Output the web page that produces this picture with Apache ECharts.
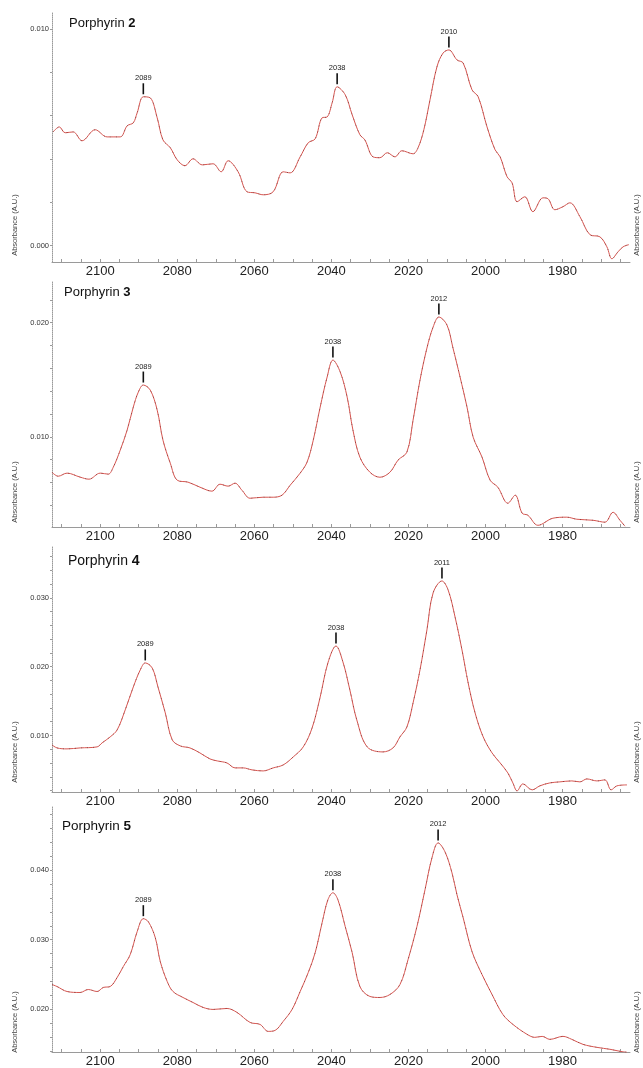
<!DOCTYPE html>
<html>
<head>
<meta charset="utf-8">
<script src="https://cdn.jsdelivr.net/npm/echarts@6/dist/echarts.min.js"></script>
<style>
  html, body { margin: 0; padding: 0; background: #fff; }
  #chart { width: 643px; height: 1068px; }
</style>
</head>
<body>
<div id="chart"></div>
<script>
// ---- data (wavenumber cm-1, absorbance A.U.) ----
const p2Wavenumber = [2112.2,2110.6,2109.1,2107.0,2104.7,2101.3,2098.2,2094.8,2093.0,2091.4,2090.4,2088.8,2087.0,2085.2,2083.7,2081.8,2080.0,2078.0,2075.9,2073.5,2070.7,2068.6,2066.8,2064.2,2061.9,2059.8,2057.7,2055.1,2052.5,2050.7,2048.1,2046.0,2044.2,2042.4,2041.1,2039.8,2038.5,2036.4,2034.6,2032.6,2031.3,2029.2,2027.4,2025.5,2023.5,2021.7,2018.8,2017.5,2016.0,2014.4,2012.6,2011.0,2009.5,2007.4,2005.8,2003.5,2001.9,1999.6,1997.5,1996.2,1994.4,1993.1,1991.8,1989.8,1987.7,1985.1,1983.8,1982.0,1979.9,1978.1,1975.5,1972.9,1970.3,1968.5,1967.2,1965.6,1964.3,1962.8];
const p2Absorbance = [0.00525,0.00548,0.00521,0.00525,0.00484,0.00535,0.00502,0.00502,0.00553,0.00567,0.00613,0.00687,0.00682,0.00590,0.00488,0.00452,0.00396,0.00369,0.00401,0.00373,0.00378,0.00341,0.00392,0.00341,0.00249,0.00244,0.00235,0.00249,0.00341,0.00336,0.00410,0.00475,0.00493,0.00590,0.00594,0.00659,0.00733,0.00696,0.00604,0.00512,0.00488,0.00410,0.00406,0.00429,0.00410,0.00438,0.00424,0.00452,0.00535,0.00673,0.00825,0.00889,0.00903,0.00857,0.00843,0.00719,0.00687,0.00548,0.00442,0.00410,0.00318,0.00290,0.00203,0.00226,0.00157,0.00221,0.00217,0.00166,0.00180,0.00198,0.00134,0.00051,0.00041,-0.00005,-0.00060,-0.00028,-0.00005,0.00005];
const p2Peaks = [2088.8, 2038.5, 2009.5];
const p2PeakLabels = ['2089', '2038', '2010'];

const p3Wavenumber = [2112.5,2110.9,2108.6,2105.2,2102.9,2100.0,2097.9,2096.6,2094.8,2093.0,2091.4,2090.1,2088.8,2087.0,2085.2,2083.7,2081.8,2080.0,2077.2,2074.1,2071.0,2068.9,2066.8,2065.0,2063.2,2061.1,2057.7,2055.1,2052.8,2050.7,2048.1,2046.3,2044.7,2042.9,2041.1,2039.6,2037.7,2035.9,2034.4,2032.6,2030.0,2027.4,2024.8,2022.7,2020.4,2018.8,2017.0,2015.2,2013.6,2012.1,2010.0,2008.5,2006.6,2004.8,2003.2,2000.9,1998.8,1996.8,1994.2,1992.3,1990.5,1989.0,1986.4,1982.5,1978.9,1976.3,1972.1,1969.0,1966.9,1965.1,1963.8];
const p3Absorbance = [0.00690,0.00655,0.00682,0.00647,0.00629,0.00682,0.00673,0.00734,0.00883,0.01059,0.01261,0.01392,0.01454,0.01410,0.01234,0.00971,0.00769,0.00620,0.00603,0.00559,0.00524,0.00585,0.00568,0.00594,0.00532,0.00462,0.00471,0.00471,0.00489,0.00576,0.00682,0.00779,0.00971,0.01261,0.01524,0.01673,0.01568,0.01348,0.01059,0.00822,0.00690,0.00646,0.00690,0.00796,0.00866,0.01146,0.01497,0.01778,0.01962,0.02050,0.01980,0.01787,0.01524,0.01261,0.00997,0.00822,0.00620,0.00559,0.00418,0.00489,0.00331,0.00313,0.00225,0.00287,0.00296,0.00278,0.00269,0.00252,0.00339,0.00269,0.00217];
const p3Peaks = [2088.8, 2039.6, 2012.1];
const p3PeakLabels = ['2089', '2038', '2012'];

const p4Wavenumber = [2112.5,2111.2,2108.6,2105.2,2100.8,2099.5,2097.4,2095.6,2093.5,2091.4,2089.6,2088.3,2086.5,2085.0,2083.1,2081.3,2079.2,2076.7,2074.1,2071.5,2069.6,2067.1,2065.0,2062.9,2060.6,2057.7,2055.1,2052.5,2049.9,2047.3,2045.0,2042.9,2040.9,2038.8,2037.0,2035.2,2033.4,2030.7,2026.6,2024.0,2022.2,2020.4,2018.8,2017.0,2015.2,2013.6,2011.3,2009.7,2007.9,2006.1,2004.5,2002.7,2000.6,1998.3,1996.2,1994.2,1992.9,1991.8,1990.3,1987.9,1985.9,1983.3,1980.7,1977.6,1975.5,1973.7,1971.1,1969.0,1967.4,1965.9,1963.3];
const p4Absorbance = [0.00864,0.00820,0.00806,0.00820,0.00835,0.00893,0.00980,0.01081,0.01372,0.01705,0.01952,0.02054,0.01981,0.01705,0.01328,0.00937,0.00849,0.00820,0.00747,0.00660,0.00631,0.00602,0.00530,0.00530,0.00501,0.00486,0.00530,0.00573,0.00689,0.00835,0.01110,0.01560,0.02054,0.02300,0.02068,0.01662,0.01226,0.00835,0.00762,0.00820,0.00980,0.01124,0.01473,0.01952,0.02533,0.03070,0.03244,0.03113,0.02721,0.02242,0.01763,0.01328,0.00980,0.00747,0.00602,0.00457,0.00312,0.00196,0.00298,0.00211,0.00269,0.00312,0.00327,0.00341,0.00327,0.00370,0.00341,0.00356,0.00211,0.00269,0.00283];
const p4Peaks = [2088.3, 2038.8, 2011.3];
const p4PeakLabels = ['2089', '2038', '2011'];

const p5Wavenumber = [2112.5,2111.2,2108.6,2105.2,2103.1,2100.8,2099.2,2097.4,2095.6,2094.0,2092.2,2090.4,2088.8,2087.5,2085.7,2084.4,2082.6,2081.1,2078.5,2075.9,2073.3,2070.7,2067.1,2064.5,2061.1,2058.5,2056.4,2054.6,2052.5,2050.2,2048.1,2046.0,2044.2,2042.4,2040.9,2039.6,2038.3,2036.4,2034.6,2032.6,2030.0,2027.4,2024.8,2022.2,2020.1,2017.8,2015.7,2013.9,2012.3,2010.5,2008.7,2007.4,2005.8,2003.5,2000.9,1998.3,1995.5,1992.9,1989.2,1987.2,1985.3,1983.3,1979.9,1977.6,1974.7,1971.1,1967.7,1965.1,1963.3];
const p5Absorbance = [0.02354,0.02325,0.02253,0.02239,0.02282,0.02253,0.02311,0.02325,0.02454,0.02612,0.02785,0.03115,0.03302,0.03258,0.03029,0.02684,0.02397,0.02253,0.02167,0.02095,0.02024,0.01995,0.02009,0.01952,0.01808,0.01779,0.01679,0.01693,0.01823,0.01995,0.02253,0.02526,0.02813,0.03244,0.03574,0.03675,0.03574,0.03187,0.02813,0.02325,0.02182,0.02167,0.02210,0.02354,0.02713,0.03187,0.03718,0.04177,0.04393,0.04263,0.03962,0.03646,0.03316,0.02828,0.02497,0.02210,0.01923,0.01780,0.01636,0.01593,0.01607,0.01564,0.01607,0.01564,0.01492,0.01449,0.01421,0.01392,0.01378];
const p5Peaks = [2088.8, 2039.6, 2012.3];
const p5PeakLabels = ['2089', '2038', '2012'];

const xTickLabels = [2100, 2080, 2060, 2040, 2020, 2000, 1980];
const p2YTicks = [0.000, 0.010];
const p3YTicks = [0.010, 0.020];
const p4YTicks = [0.010, 0.020, 0.030];
const p5YTicks = [0.020, 0.030, 0.040];

const panels = [
  { name: '2', wn: p2Wavenumber, abs: p2Absorbance, peaks: p2Peaks, peakLabels: p2PeakLabels, yTicks: p2YTicks,
    top: 12, height: 250, yMin: -0.00075, yMax: 0.01078, titleTop: 12, titleSize: 13, titleLeft: 64, nameY: 225 },
  { name: '3', wn: p3Wavenumber, abs: p3Absorbance, peaks: p3Peaks, peakLabels: p3PeakLabels, yTicks: p3YTicks,
    top: 282, height: 245, yMin: 0.0021, yMax: 0.02357, titleTop: 281, titleSize: 13, titleLeft: 59, nameY: 492 },
  { name: '4', wn: p4Wavenumber, abs: p4Absorbance, peaks: p4Peaks, peakLabels: p4PeakLabels, yTicks: p4YTicks,
    top: 547, height: 245, yMin: 0.0018, yMax: 0.03737, titleTop: 549, titleSize: 14, titleLeft: 63, nameY: 752 },
  { name: '5', wn: p5Wavenumber, abs: p5Absorbance, peaks: p5Peaks, peakLabels: p5PeakLabels, yTicks: p5YTicks,
    top: 807, height: 246, yMin: 0.01382, yMax: 0.0491, titleTop: 814, titleSize: 13.5, titleLeft: 57, nameY: 1022 },
];

const FONT = '"Liberation Sans", Arial, sans-serif';
const X_MIN = 1962.5, X_MAX = 2112.5;

const xMinorTicks = [];
for (let v = 1965; v <= 2110; v += 5) xMinorTicks.push(v);

const chart = echarts.init(document.getElementById('chart'), null, { renderer: 'canvas' });

const grid = [], xAxis = [], yAxis = [], series = [], title = [], graphic = [];

panels.forEach((p, i) => {
  const pairs = p.wn.map((w, k) => [w, p.abs[k]]);
  const yMinorTicks = [];
  for (let v = Math.ceil(p.yMin / 0.002) * 0.002; v <= p.yMax; v += 0.002) yMinorTicks.push(+v.toFixed(4));

  grid.push({ left: 52, right: 13, top: p.top, height: p.height });

  xAxis.push({
    type: 'value', gridIndex: i, min: X_MIN, max: X_MAX, inverse: true,
    axisLine: { show: true, onZero: false, lineStyle: { color: '#9a9a9a', width: 1 } },
    axisTick: { show: true, inside: true, length: 3, customValues: xMinorTicks, lineStyle: { color: '#9a9a9a' } },
    axisLabel: { customValues: xTickLabels, fontSize: 13, color: '#222', margin: 3, fontFamily: FONT,
      formatter: v => String(v) },
    splitLine: { show: false },
  });

  yAxis.push({
    type: 'value', gridIndex: i, min: p.yMin, max: p.yMax,
    axisLine: { show: true, onZero: false, lineStyle: { color: '#9a9a9a', width: 1, type: [1, 1] } },
    axisTick: { show: true, length: 2, customValues: yMinorTicks, lineStyle: { color: '#9a9a9a' } },
    axisLabel: { customValues: p.yTicks, fontSize: 7.5, color: '#333', margin: 3, fontFamily: FONT,
      formatter: v => v.toFixed(3) },
    splitLine: { show: false },
  });

  series.push({
    type: 'line', xAxisIndex: i, yAxisIndex: i, data: pairs,
    smooth: 0.35, showSymbol: false, silent: true,
    lineStyle: { color: '#d65550', width: 1 },
    markPoint: {
      symbol: 'rect', symbolSize: [1.6, 11], symbolOffset: [0, -8],
      itemStyle: { color: '#111' },
      label: { show: true, position: 'top', distance: 1, fontSize: 7.5, color: '#222', fontFamily: FONT,
        formatter: d => d.name },
      data: p.peaks.map((w, k) => ({ name: p.peakLabels[k], coord: [w, p.abs[p.wn.indexOf(w)]] })),
    },
  });
  // thin dark dashes over the red trace, as in the scanned original
  series.push({
    type: 'line', xAxisIndex: i, yAxisIndex: i, data: pairs,
    smooth: 0.35, showSymbol: false, silent: true,
    lineStyle: { color: '#3a2020', width: 0.8, type: [1, 5], opacity: 0.55 },
  });

  title.push({
    text: '{a|Porphyrin }{b|' + p.name + '}', left: p.titleLeft, top: p.titleTop,
    textStyle: { fontWeight: 'normal', rich: {
      a: { fontSize: p.titleSize, color: '#111', fontFamily: FONT, fontWeight: 'normal' },
      b: { fontSize: p.titleSize, color: '#111', fontFamily: FONT, fontWeight: 'bold' },
    } },
  });

  ['left', 'right'].forEach(side => {
    graphic.push({
      type: 'text', x: side === 'left' ? 15 : 637, y: p.nameY, rotation: Math.PI / 2,
      style: { text: 'Absorbance (A.U.)', fontSize: 7.5, fill: '#444', fontFamily: FONT,
        align: 'center', verticalAlign: 'middle' },
    });
  });
});

chart.setOption({
  animation: false,
  backgroundColor: '#fff',
  title, grid, xAxis, yAxis, series, graphic,
});
</script>
</body>
</html>
